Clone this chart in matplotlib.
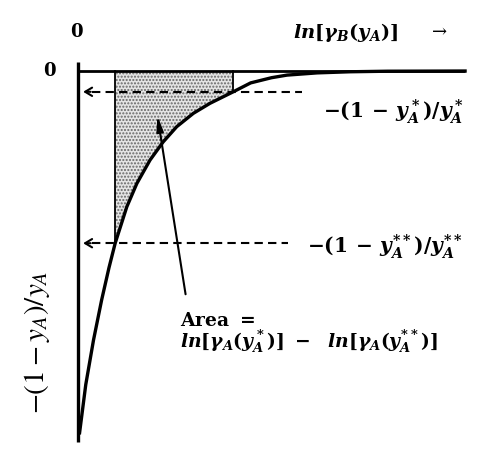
import numpy as np
import matplotlib
matplotlib.use("Agg")
import matplotlib.pyplot as plt

plt.rcParams['mathtext.fontset'] = 'custom'
plt.rcParams['mathtext.rm'] = 'DejaVu Serif:bold'
plt.rcParams['mathtext.it'] = 'DejaVu Serif:bold:italic'
plt.rcParams['mathtext.bf'] = 'DejaVu Serif:bold'
plt.rcParams['hatch.linewidth'] = 1.0

# curve: x = ln[gamma_B(y_A)], y = -(1 - y_A)/y_A
curve_x = np.array([0.04, 0.20, 0.40, 0.61, 0.80, 0.96, 1.26, 1.52, 1.86, 2.20, 2.55,
                    2.98, 3.41, 4.01, 4.46, 5.00, 5.40, 6.18, 7.03, 8.00, 10.0])
curve_y = np.array([-9.75, -8.45, -7.25, -6.17, -5.30, -4.64, -3.66, -3.03, -2.40, -1.91, -1.50,
                    -1.14, -0.87, -0.56, -0.32, -0.18, -0.11, -0.05, -0.02, -0.005, 0.0])

y_star = -0.56
y_star2 = -4.64
x_star = 4.01
x_star2 = 0.96

fig = plt.figure(figsize=(4.79, 4.51), dpi=100)
ax = fig.add_axes([0, 0, 1, 1])
ax.set_xlim(-2.016, 10.36)
ax.set_ylim(-10.24, 1.914)
ax.axis('off')

# shaded area
m = (curve_x >= x_star2) & (curve_x <= x_star)
ax.fill_between(curve_x[m], curve_y[m], 0, facecolor='#e4e4e4', hatch='.....',
                edgecolor='#666666', linewidth=0, zorder=1)
ax.plot([x_star2, x_star2], [0, y_star2], color='black', lw=1.3, zorder=2)
ax.plot([x_star, x_star], [0, y_star], color='black', lw=1.3, zorder=2)

# axes
ax.plot([0, 0], [0.24, -10.0], color='black', lw=2.4, solid_capstyle='butt', zorder=3)
ax.plot([0, 10.0], [0, 0], color='black', lw=2.0, solid_capstyle='butt', zorder=3)

# curve
ax.plot(curve_x, curve_y, color='black', lw=2.4, zorder=4)

# dashed guide lines with arrow heads
for yv, xend in [(y_star, 5.79), (y_star2, 5.43)]:
    ax.plot([0.35, xend], [yv, yv], color='black', lw=1.5, dashes=(4, 2.5), zorder=3)
    ax.annotate('', xy=(0.06, yv), xytext=(0.4, yv),
                arrowprops=dict(arrowstyle='->,head_length=0.5,head_width=0.3',
                                color='black', lw=1.5))

# Area arrow
ax.annotate('', xy=(2.04, -1.13), xytext=(2.79, -6.09),
            arrowprops=dict(arrowstyle='-|>,head_length=0.9,head_width=0.2',
                            color='black', lw=1.5))

# text
ax.text(-0.05, 1.05, '0', fontsize=13, fontweight='bold', family='DejaVu Serif',
        ha='center', va='center')
ax.text(-0.75, 0.0, '0', fontsize=13, fontweight='bold', family='DejaVu Serif',
        ha='center', va='center')
ax.text(5.56, 1.05, r'$ln[\gamma_B(y_A)]$', fontsize=14, ha='left', va='center')
ax.text(9.35, 1.05, '→', fontsize=13, family='DejaVu Serif', ha='center', va='center')
ax.text(6.33, -1.1, r'$-(1\,-\,y_A^*)/y_A^*$', fontsize=14.5, ha='left', va='center')
ax.text(5.92, -4.72, r'$-(1\,-\,y_A^{**})/y_A^{**}$', fontsize=14.5, ha='left', va='center')
ax.text(2.64, -6.71, r'$\mathrm{Area}\ =$', fontsize=13.5, ha='left', va='center')
ax.text(2.64, -7.30, r'$ln[\gamma_A(y_A^*)]\ -\ \ ln[\gamma_A(y_A^{**})]$', fontsize=13.5,
        ha='left', va='center')
ax.text(-1.06, -7.3, r'$-(1-y_A)/y_A$', fontsize=21, rotation=90,
        math_fontfamily='stix', ha='center', va='center')

fig.savefig('out.png', dpi=100)
